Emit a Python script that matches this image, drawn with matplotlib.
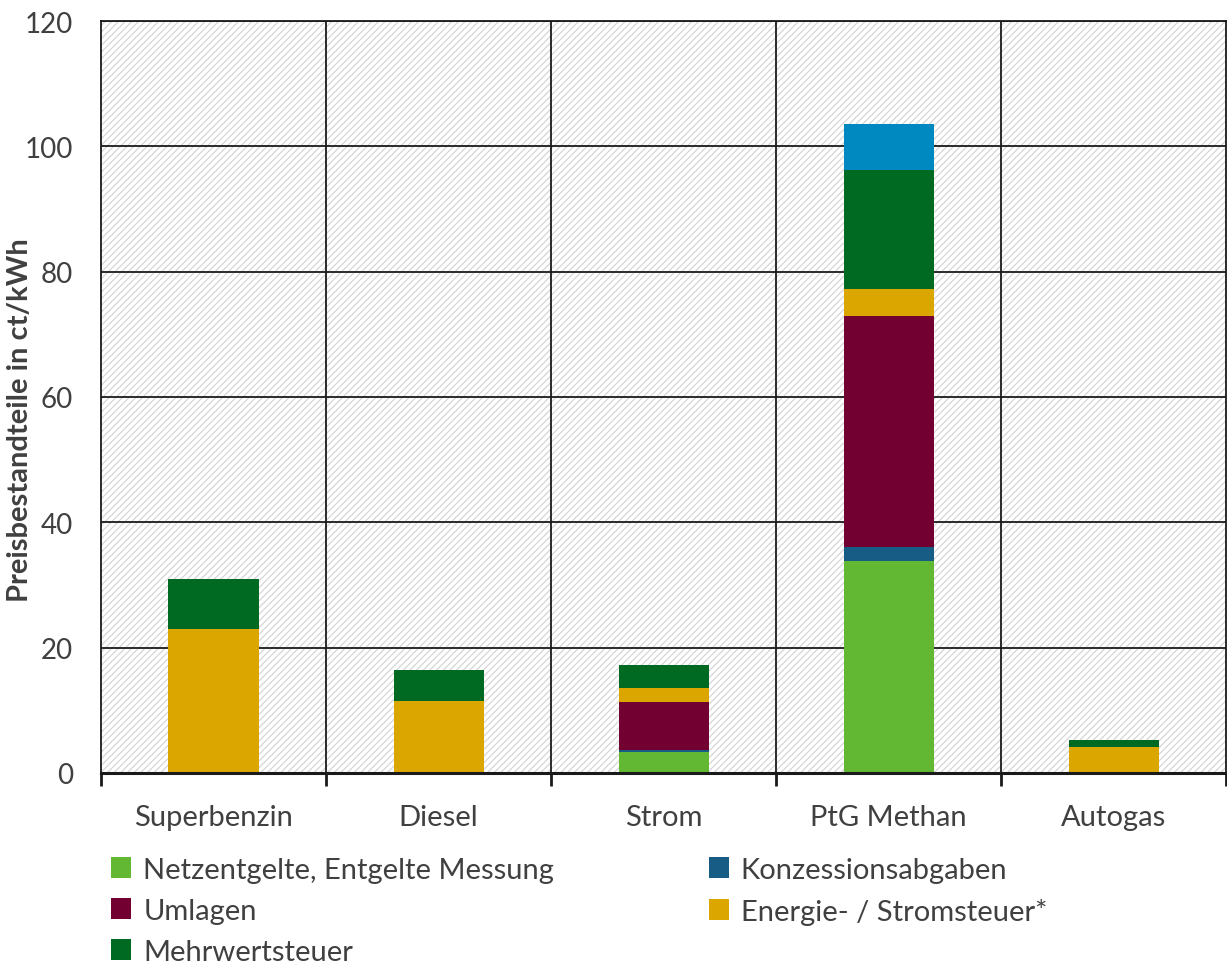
import numpy as np
import matplotlib.pyplot as plt
from matplotlib.patches import Rectangle

plt.rcParams['font.family'] = ['Lato', 'DejaVu Sans']
plt.rcParams['hatch.linewidth'] = 0.9
plt.rcParams['hatch.color'] = '#d6d6d6'

# Preisbestandteile in ct/kWh
kategorien = ['Superbenzin', 'Diesel', 'Strom', 'PtG Methan', 'Autogas']
netzentgelte = [0, 0, 3.3, 33.8, 0]
konzession = [0, 0, 0.4, 2.2, 0]
umlagen = [0, 0, 7.6, 36.9, 0]
steuer = [23.0, 11.5, 2.2, 4.3, 4.1]
mwst = [8.0, 4.9, 3.7, 19.0, 1.2]
sonstige = [0, 0, 0, 7.4, 0]

reihen = [
    ('Netzentgelte, Entgelte Messung', netzentgelte, '#62b832'),
    ('Konzessionsabgaben', konzession, '#175c85'),
    ('Umlagen', umlagen, '#720030'),
    ('Energie- / Stromsteuer*', steuer, '#dba600'),
    ('Mehrwertsteuer', mwst, '#006a22'),
    (None, sonstige, '#0089c0'),
]

textfarbe = '#404040'

fig = plt.figure(figsize=(12.27, 9.70), dpi=100)
ax = fig.add_axes([0.0823, 0.2021, 0.9170, 0.7752])

# schraffierter Hintergrund
ax.add_patch(Rectangle((0, 0), 1, 1, transform=ax.transAxes, facecolor='white',
                       edgecolor='#d6d6d6', hatch='/////', linewidth=0, zorder=0))

x = np.arange(len(kategorien))
unten = np.zeros(len(kategorien))
handles = {}
for name, werte, farbe in reihen:
    werte = np.array(werte)
    b = ax.bar(x, werte, width=0.40, bottom=unten, color=farbe, zorder=3,
               label=name if name else '_nolegend_')
    if name:
        handles[name] = b
    unten += werte

ax.set_xlim(-0.5, len(kategorien) - 0.5)
ax.set_ylim(0, 120)
ax.set_yticks(np.arange(0, 121, 20))

for y in np.arange(20, 121, 20):
    ax.axhline(y, color='#1a1a1a', linewidth=1.3, zorder=2)
for xb in np.arange(0.5, len(kategorien) - 0.5, 1):
    ax.axvline(xb, color='#1a1a1a', linewidth=1.3, zorder=2)

for s in ['left', 'right', 'top']:
    ax.spines[s].set_color('#1a1a1a')
    ax.spines[s].set_linewidth(1.3)
ax.spines['bottom'].set_color('#1a1a1a')
ax.spines['bottom'].set_linewidth(2.2)
ax.spines['bottom'].set_zorder(4)

ax.set_xticks(x)
ax.set_xticklabels(kategorien, fontsize=21, color=textfarbe)
ax.tick_params(axis='x', which='major', length=0, pad=22)
ax.set_xticks(np.arange(-0.5, len(kategorien), 1), minor=True)
ax.tick_params(axis='x', which='minor', length=9, width=2, color='#1a1a1a', direction='out')
ax.tick_params(axis='y', length=0, pad=20, labelsize=20, labelcolor=textfarbe)

ax.set_ylabel('Preisbestandteile in ct/kWh', fontsize=21, fontweight='bold',
              color=textfarbe)
ax.yaxis.set_label_coords(-0.0605, 0.471)

reihenfolge = ['Netzentgelte, Entgelte Messung', 'Umlagen', 'Mehrwertsteuer',
               'Konzessionsabgaben', 'Energie- / Stromsteuer*']
leg = fig.legend([handles[n] for n in reihenfolge], reihenfolge, ncol=2,
                 loc='upper left', bbox_to_anchor=(0.081, 0.128), frameon=False,
                 fontsize=21, handlelength=0.7, handleheight=0.7,
                 handletextpad=0.4, columnspacing=5.3, labelspacing=0.52,
                 labelcolor=textfarbe, borderaxespad=0)

fig.savefig('out.png', dpi=100)
